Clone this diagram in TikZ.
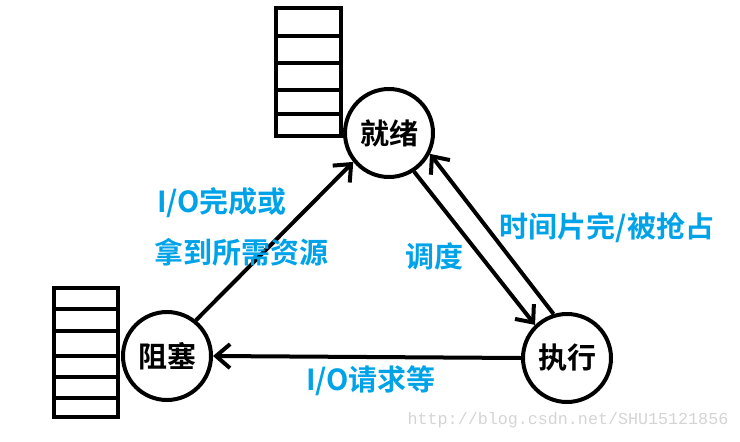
\documentclass[tikz,border=0pt]{standalone}
\usepackage{fontspec}
\newfontfamily\cjk{Noto Sans CJK SC}[BoldFont={* Bold}]
\newfontfamily\wmfont{Liberation Mono}
\usepackage{tikz}
\usetikzlibrary{arrows.meta,positioning}
\definecolor{textblue}{RGB}{0, 162, 232}
\definecolor{markgray}{RGB}{212, 212, 212}

\begin{document}
\begin{tikzpicture}[x=1pt, y=-1pt,
    state/.style={draw, circle, line width=4pt, minimum size=88pt, inner sep=0pt, font=\cjk\bfseries\fontsize{29}{29}\selectfont},
    trans/.style={text=textblue, inner sep=0pt, font=\cjk\bfseries\fontsize{29}{29}\selectfont},
    queue/.style={line width=4pt},
    flow/.style={-{Straight Barb[length=14pt,width=24pt]}, line width=4pt}
]
    \useasboundingbox (0,0) rectangle (740,442);

    % Queues
    \draw[queue] (276,8) rectangle (341,136);
    \foreach \y in {36,63,90,114}
        \draw[queue] (276,\y) -- (341,\y);
    \draw[queue] (54,288) rectangle (118,417);
    \foreach \y in {309,331,356,377,398}
        \draw[queue] (54,\y) -- (118,\y);

    % States
    \node[state, fill=white] (ready) at (389,133) {就绪};
    \node[state, fill=white] (blocked) at (167,356) {阻塞};
    \node[state, fill=white] (running) at (567,358) {执行};

    % Transitions
    \draw[flow] (blocked.51) -- (ready.219);
    \draw[flow] (ready.-57) -- (running.134);
    \draw[flow] (running.107) -- (ready.-27);
    \draw[flow] (running.west) -- (blocked.east);

    % Labels
    \node[trans] (iodone) at (222,203) {I/O完成或};
    \node[trans] (getres) at (241,252) {拿到所需资源};
    \node[trans] (sched) at (434,256) {调度};
    \node[trans] (preempt) at (607,228) {时间片完/被抢占};
    \node[trans] (ioreq) at (371,381) {I/O请求等};

    % Watermark
    \node[text=markgray, inner sep=0pt, font=\wmfont\fontsize{16.7}{17}\selectfont] (mark) at (568,420) {http://blog.csdn.net/SHU15121856};
\end{tikzpicture}
\end{document}
